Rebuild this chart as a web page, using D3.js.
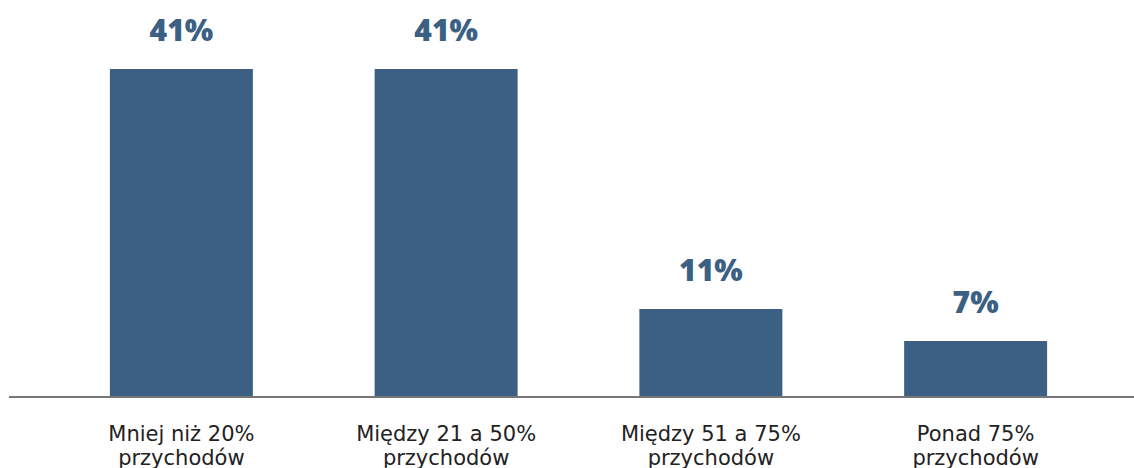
<!DOCTYPE html>
<html>
<head>
<meta charset="utf-8">
<script src="https://cdn.jsdelivr.net/npm/d3@7"></script>
<style>
  body { margin: 0; background: #fff; }
</style>
</head>
<body>
<svg id="chart"></svg>
<script>
const categories = [
  ['Mniej niż 20%', 'przychodów'],
  ['Między 21 a 50%', 'przychodów'],
  ['Między 51 a 75%', 'przychodów'],
  ['Ponad 75%', 'przychodów']
];
const values = [41, 41, 11, 7];

const svg = d3.select('#chart')
  .attr('width', 1134)
  .attr('height', 468);

const barColor = '#3b6084';
const baseY = 397;

const x = d3.scaleBand()
  .domain(d3.range(values.length))
  .range([49, 1108])
  .paddingInner(0.46)
  .paddingOuter(0.23);

const y = d3.scaleLinear()
  .domain([0, 41])
  .range([baseY, 69]);

// bars
svg.selectAll('rect.bar')
  .data(values)
  .join('rect')
  .attr('class', 'bar')
  .attr('x', (d, i) => x(i))
  .attr('y', d => y(d))
  .attr('width', x.bandwidth())
  .attr('height', d => baseY - y(d))
  .attr('fill', barColor);

// baseline
svg.append('line')
  .attr('x1', 9).attr('x2', 1134)
  .attr('y1', baseY).attr('y2', baseY)
  .attr('stroke', '#767676')
  .attr('stroke-width', 2);

// value labels
svg.selectAll('text.val')
  .data(values)
  .join('text')
  .attr('class', 'val')
  .attr('x', (d, i) => x(i) + x.bandwidth() / 2)
  .attr('y', d => y(d) - 28)
  .attr('text-anchor', 'middle')
  .attr('font-family', '"Open Sans", sans-serif')
  .attr('font-weight', 800)
  .attr('font-size', 30)
  .attr('fill', barColor)
  .text(d => d + '%');

// category labels
const cat = svg.selectAll('text.cat')
  .data(categories)
  .join('text')
  .attr('class', 'cat')
  .attr('text-anchor', 'middle')
  .attr('font-family', '"DejaVu Sans", sans-serif')
  .attr('font-size', 21)
  .attr('fill', '#222');

cat.selectAll('tspan')
  .data((d, i) => d.map(t => ({ t, i })))
  .join('tspan')
  .attr('x', d => x(d.i) + x.bandwidth() / 2)
  .attr('y', (d, j) => 441 + j * 24)
  .text(d => d.t);
</script>
</body>
</html>
